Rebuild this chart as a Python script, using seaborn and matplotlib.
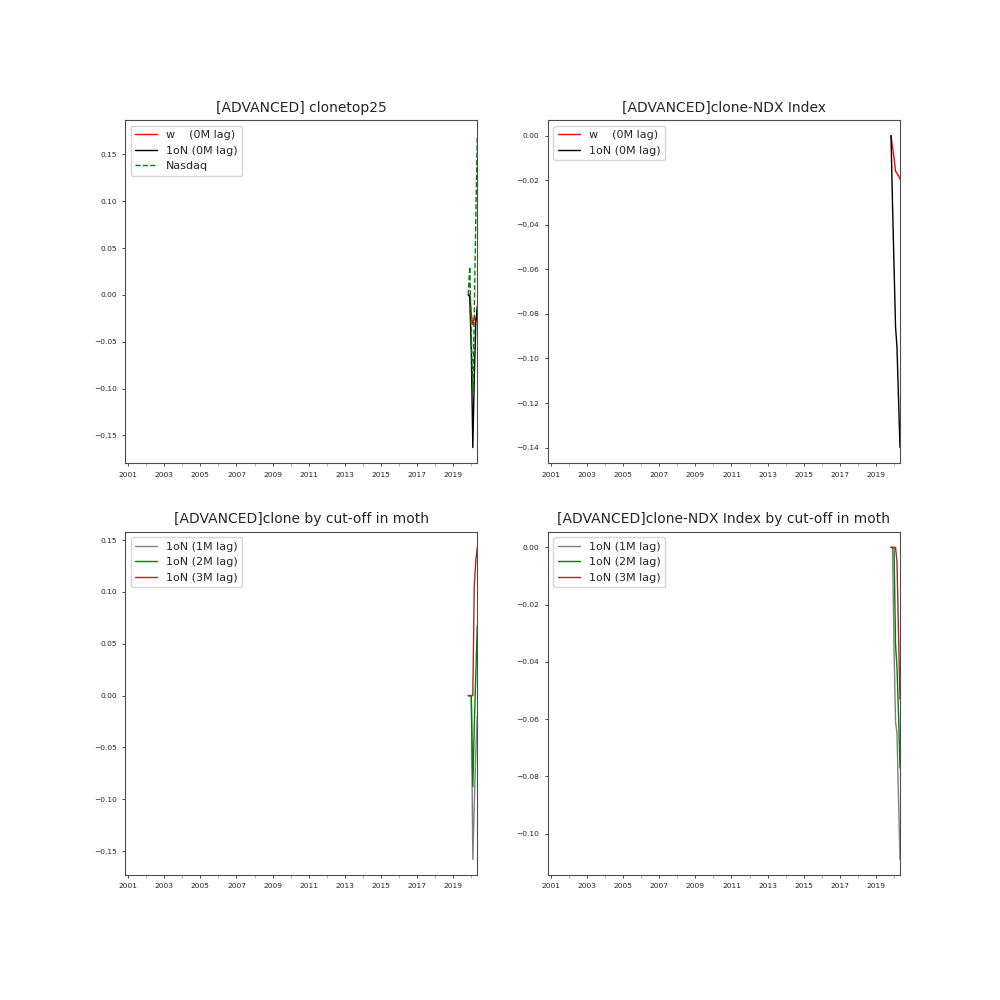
import pandas as pd
import matplotlib
matplotlib.use("Agg")
import matplotlib.pyplot as plt
import matplotlib.dates as mdates
import matplotlib.ticker as mticker
import seaborn as sns

# month-end dates where the clone has values
dates = pd.to_datetime(["2019-10-31", "2019-11-30", "2019-12-31", "2020-01-31",
                        "2020-02-29", "2020-03-31", "2020-04-30"])
# the backtest index starts here, so the axis starts here too
index_start = pd.Timestamp("2000-10-31")

# panel 1: clonetop25
top25_w = [0.0, 0.0, -0.02, -0.032, -0.024, -0.028, -0.02]
top25_1on = [0.0, -0.002, -0.06, -0.163, -0.09, -0.03, -0.012]
nasdaq = [0.0, 0.03, -0.04, -0.105, -0.02, 0.08, 0.17]

# panel 2: clone - NDX index
ndx_w = [0.0, -0.005, -0.01, -0.016, -0.017, -0.018, -0.0195]
ndx_1on = [0.0, -0.03, -0.058, -0.086, -0.095, -0.118, -0.14]

# panel 3: clone by cut-off month
cut_1m = [0.0, 0.0, 0.0, -0.158, -0.105, -0.055, -0.02]
cut_2m = [0.0, 0.0, 0.0, -0.088, -0.03, 0.02, 0.068]
cut_3m = [0.0, 0.0, 0.0, 0.0, 0.105, 0.13, 0.143]

# panel 4: clone - NDX index by cut-off month
ndx_cut_1m = [0.0, 0.0, -0.035, -0.061, -0.065, -0.088, -0.109]
ndx_cut_2m = [0.0, 0.0, 0.0, -0.034, -0.042, -0.058, -0.077]
ndx_cut_3m = [0.0, 0.0, 0.0, 0.0, -0.005, -0.03, -0.053]

major_years = list(range(2001, 2021, 2))

sns.set_style("ticks")
plt.rcParams["font.family"] = ["DejaVu Sans"]
plt.rcParams["xtick.labelsize"] = 5.4
plt.rcParams["ytick.labelsize"] = 5.4


def style_axis(ax, title):
    ax.set_title(title, fontsize=10)
    ax.set_xlim(index_start, dates[-1])
    ax.xaxis.set_major_locator(mticker.FixedLocator(
        [mdates.date2num(pd.Timestamp(f"{y}-01-01")) for y in major_years]))
    ax.xaxis.set_minor_locator(mdates.YearLocator(1))
    ax.xaxis.set_major_formatter(mdates.DateFormatter("%Y"))
    ax.tick_params(axis="both", which="major", length=2.5, width=0.6)
    ax.tick_params(axis="x", which="minor", length=2, width=0.6, color="0.65")
    ax.set_xlabel("")
    ax.set_ylabel("")
    for sp in ax.spines.values():
        sp.set_color("0.3")
    ax.legend(loc="upper left", fontsize=8)


fig, axes = plt.subplots(2, 2, figsize=(10, 10))
plt.subplots_adjust(left=0.125, right=0.9, top=0.88, bottom=0.125, wspace=0.2, hspace=0.2)

ax = axes[0, 0]
sns.lineplot(x=dates, y=top25_w, ax=ax, color="red", lw=1, label="w    (0M lag)")
sns.lineplot(x=dates, y=top25_1on, ax=ax, color="black", lw=1, label="1oN (0M lag)")
sns.lineplot(x=dates, y=nasdaq, ax=ax, color="green", lw=1, linestyle="--", label="Nasdaq")
style_axis(ax, "[ADVANCED] clonetop25")

ax = axes[0, 1]
sns.lineplot(x=dates, y=ndx_w, ax=ax, color="red", lw=1, label="w    (0M lag)")
sns.lineplot(x=dates, y=ndx_1on, ax=ax, color="black", lw=1, label="1oN (0M lag)")
style_axis(ax, "[ADVANCED]clone-NDX Index")

ax = axes[1, 0]
sns.lineplot(x=dates, y=cut_1m, ax=ax, color="grey", lw=1, label="1oN (1M lag)")
sns.lineplot(x=dates, y=cut_2m, ax=ax, color="green", lw=1, label="1oN (2M lag)")
sns.lineplot(x=dates, y=cut_3m, ax=ax, color="brown", lw=1, label="1oN (3M lag)")
style_axis(ax, "[ADVANCED]clone by cut-off in moth")

ax = axes[1, 1]
sns.lineplot(x=dates, y=ndx_cut_1m, ax=ax, color="grey", lw=1, label="1oN (1M lag)")
sns.lineplot(x=dates, y=ndx_cut_2m, ax=ax, color="green", lw=1, label="1oN (2M lag)")
sns.lineplot(x=dates, y=ndx_cut_3m, ax=ax, color="brown", lw=1, label="1oN (3M lag)")
style_axis(ax, "[ADVANCED]clone-NDX Index by cut-off in moth")

fig.savefig("out.png", dpi=100)
